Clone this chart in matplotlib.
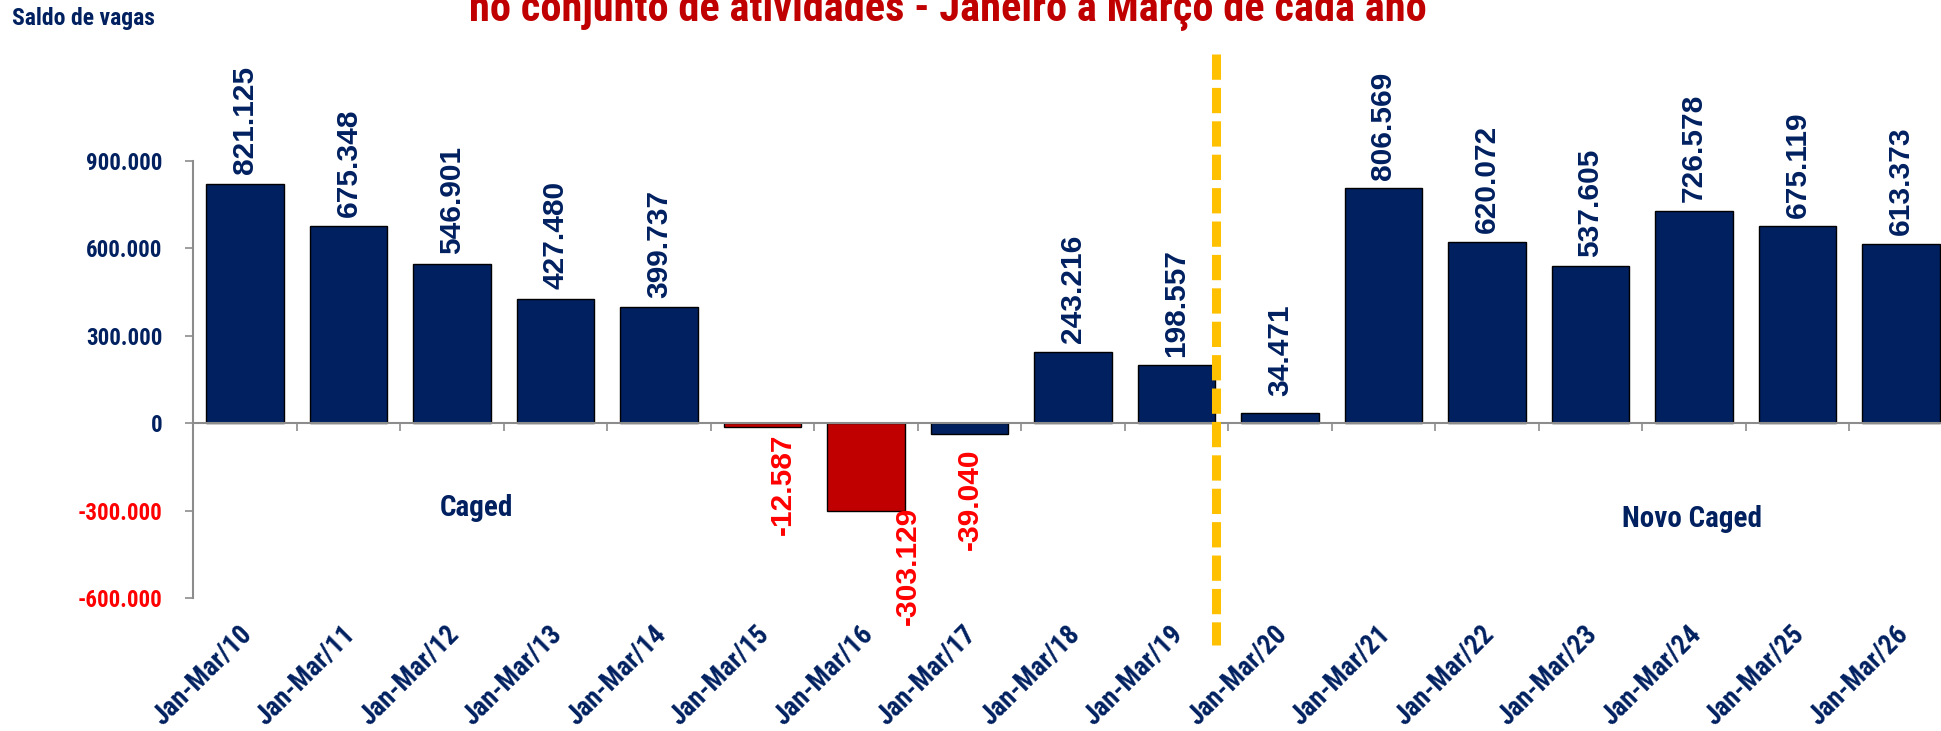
import matplotlib
matplotlib.use("Agg")
import matplotlib.pyplot as plt
import matplotlib.transforms as mtransforms
import numpy as np

categories = ["Jan-Mar/10", "Jan-Mar/11", "Jan-Mar/12", "Jan-Mar/13", "Jan-Mar/14",
              "Jan-Mar/15", "Jan-Mar/16", "Jan-Mar/17", "Jan-Mar/18", "Jan-Mar/19",
              "Jan-Mar/20", "Jan-Mar/21", "Jan-Mar/22", "Jan-Mar/23", "Jan-Mar/24",
              "Jan-Mar/25", "Jan-Mar/26"]
values = [821125, 675348, 546901, 427480, 399737,
          -12587, -303129, -39040, 243216, 198557,
          34471, 806569, 620072, 537605, 726578,
          675119, 613373]
yticks = [-600000, -300000, 0, 300000, 600000, 900000]
ytick_labels = ["-600.000", "-300.000", "0", "300.000", "600.000", "900.000"]

NAVY = "#002060"
DARKRED = "#C00000"
RED = "#FF0000"
GOLD = "#FFC000"
GRAY = "#8C8C8C"

FONT = ["Roboto Condensed", "Liberation Sans", "DejaVu Sans"]
FONT_W = ["Liberation Sans", "DejaVu Sans"]
plt.rcParams["font.family"] = FONT

# bar colours: the two largest losses in red
bar_colors = [DARKRED if c in ("Jan-Mar/15", "Jan-Mar/16") else NAVY for c in categories]
# manual nudges of value labels (points beyond bar end, x shift in categories)
label_pad_pt = [7, 7, 7, 7, 6, 5, -3.5, 10, 7, 6, 12, 6, 7, 7, 7, 6, 7]
label_dx = [0, 0, 0, 0, 0, 0.2, 0.41, 0, 0, 0, 0, 0, 0, 0, 0, 0, 0]

fig = plt.figure(figsize=(19.41, 7.31), dpi=100)
ax = fig.add_axes([0.0995, 0.182, 0.9065, 0.598])

x = np.arange(len(categories))
ax.bar(x, values, width=0.75, color=bar_colors, edgecolor="black", linewidth=1.0, zorder=3)

ax.set_xlim(-0.5, len(categories) - 0.5)
ax.set_ylim(-600000, 900000)

for s in ["top", "right"]:
    ax.spines[s].set_visible(False)
ax.spines["left"].set_color(GRAY)
ax.spines["left"].set_linewidth(1.5)
ax.spines["bottom"].set_position(("data", 0))
ax.spines["bottom"].set_color(GRAY)
ax.spines["bottom"].set_linewidth(1.5)
ax.spines["bottom"].set_zorder(4)

ax.set_yticks(yticks)
ax.set_yticklabels(ytick_labels)
ax.tick_params(axis="y", length=6, width=1.2, color=GRAY, pad=16, labelsize=16.5)
for t, v in zip(ax.get_yticklabels(), yticks):
    t.set_fontweight("bold")
    t.set_color(RED if v < 0 else NAVY)

ax.set_xticks(x)
ax.set_xticklabels([])
ax.tick_params(axis="x", which="major", length=0)
ax.set_xticks(np.arange(len(categories) + 1) - 0.5, minor=True)
ax.tick_params(axis="x", which="minor", length=6, width=1.2, color=GRAY, direction="out")

# category labels placed at the bottom of the plot area
for i, c in enumerate(categories):
    tr = mtransforms.offset_copy(ax.transData, fig=fig, x=-5, y=-16, units="points")
    ax.text(i, -600000, c, transform=tr, rotation=45, ha="right", va="top",
            rotation_mode="anchor", fontsize=19.5, fontweight="bold", color=NAVY,
            clip_on=False)

# value labels
for i, v in enumerate(values):
    txt = f"{v:,}".replace(",", ".")
    sign = 1 if v >= 0 else -1
    tr = mtransforms.offset_copy(ax.transData, fig=fig, x=0, y=sign * label_pad_pt[i], units="points")
    ax.text(i + label_dx[i], v, txt, transform=tr, rotation=90,
            ha="center", va="bottom" if v >= 0 else "top", fontsize=21.5,
            fontweight="bold", color=NAVY if v >= 0 else RED,
            family=FONT_W, clip_on=False, zorder=5)

# methodology break
ax.plot([9.38, 9.38], [1268000, -760000], color=GOLD, linewidth=6.5,
        dashes=(2.8, 0.9), clip_on=False, zorder=6, solid_capstyle="butt", dash_capstyle="butt")

ax.text(2.24, -292000, "Caged", ha="center", va="center", fontsize=21,
        fontweight="bold", color=NAVY)
ax.text(13.98, -328000, "Novo Caged", ha="center", va="center", fontsize=21,
        fontweight="bold", color=NAVY)

fig.text(12 / 1941, 1 - 19 / 731, "Saldo de vagas", ha="left", va="center",
         fontsize=17, fontweight="bold", color=NAVY)
fig.text(948 / 1941, 1 - 21 / 731, "no conjunto de atividades - Janeiro a Março de cada ano",
         ha="center", va="baseline", fontsize=30.5, fontweight="bold", color=DARKRED)

fig.savefig("out.png", dpi=100)
